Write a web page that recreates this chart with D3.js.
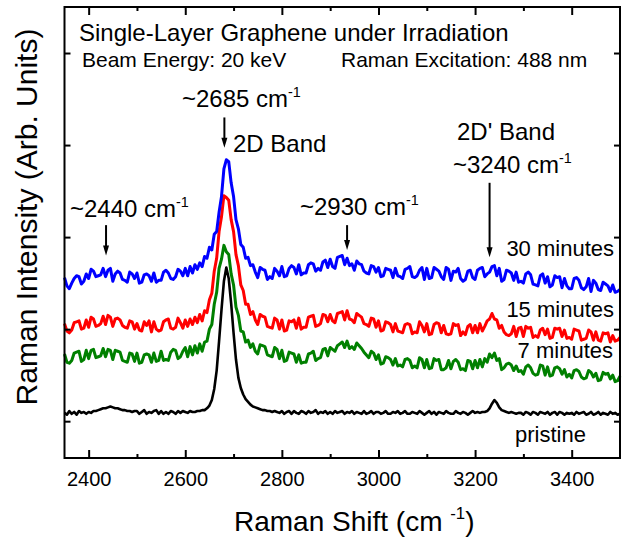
<!DOCTYPE html>
<html>
<head>
<meta charset="utf-8">
<script src="https://cdn.jsdelivr.net/npm/d3@7"></script>
<style>
  body { margin: 0; background: #fff; }
  svg { font-family: "Liberation Sans", Arial, sans-serif; }
</style>
</head>
<body>
<div id="chart"></div>
<script>

// raman shift grid, 5 cm-1 step from 2350 to 3500
var shift = d3.range(2350, 3501, 5);

// intensities (arb. units), one row = 50 cm-1
var pristine = [
    9, 7, 11, 8, 10, 7, 11, 9, 10, 8,
    10, 9, 11, 11, 12, 13, 14, 14, 15, 16,
    15, 14, 14, 13, 12, 12, 11, 11, 10, 11,
    11, 8, 10, 12, 8, 10, 9, 11, 12, 8,
    11, 8, 10, 8, 11, 10, 8, 11, 9, 11,
    10, 9, 11, 10, 10, 11, 11, 12, 12, 14,
    17, 23, 35, 55, 87, 121, 152, 167, 155, 128,
    96, 67, 47, 36, 29, 24, 21, 18, 16, 15,
    14, 13, 12, 12, 11, 11, 10, 11, 10, 9,
    11, 8, 10, 11, 8, 11, 9, 8, 11, 10,
    8, 11, 9, 10, 12, 8, 10, 9, 11, 8,
    10, 8, 11, 9, 10, 11, 8, 10, 9, 11,
    8, 10, 9, 8, 11, 8, 9, 11, 8, 10,
    10, 8, 9, 11, 8, 8, 10, 9, 11, 8,
    9, 11, 8, 8, 10, 9, 8, 11, 9, 7,
    9, 11, 8, 10, 7, 10, 9, 8, 11, 9,
    8, 8, 11, 9, 8, 10, 9, 7, 9, 11,
    9, 10, 9, 10, 10, 11, 14, 19, 23, 20,
    15, 12, 11, 10, 9, 10, 9, 8, 9, 9,
    7, 10, 9, 7, 10, 9, 7, 10, 9, 8,
    10, 7, 9, 10, 7, 10, 9, 7, 9, 8,
    9, 7, 10, 8, 9, 10, 7, 8, 10, 7,
    8, 10, 7, 9, 8, 7, 10, 8, 9, 7,
    8
];

var min7 = [
    73, 64, 63, 66, 74, 75, 76, 65, 67, 77,
    68, 77, 78, 69, 70, 71, 79, 70, 78, 77,
    67, 77, 76, 75, 66, 65, 64, 74, 73, 65,
    74, 63, 64, 72, 73, 72, 64, 74, 65, 66,
    76, 66, 67, 66, 75, 78, 77, 68, 70, 76,
    80, 70, 81, 72, 82, 74, 84, 76, 86, 87,
    100, 105, 127, 140, 166, 176, 191, 184, 181, 160,
    148, 124, 115, 98, 97, 86, 88, 80, 84, 76,
    73, 83, 82, 81, 72, 71, 70, 80, 78, 68,
    77, 65, 66, 75, 74, 73, 64, 72, 63, 64,
    64, 73, 74, 76, 66, 68, 69, 78, 79, 71,
    80, 78, 76, 82, 84, 86, 80, 87, 79, 81,
    78, 85, 82, 79, 75, 72, 69, 76, 74, 67,
    72, 62, 63, 70, 69, 67, 61, 68, 60, 61,
    59, 67, 68, 66, 58, 60, 58, 69, 67, 58,
    67, 57, 58, 68, 66, 67, 56, 56, 58, 66,
    57, 65, 67, 64, 56, 57, 55, 66, 65, 57,
    66, 58, 67, 59, 68, 64, 73, 69, 74, 66,
    68, 56, 58, 62, 63, 61, 55, 60, 54, 55,
    51, 59, 61, 58, 52, 50, 51, 61, 60, 50,
    59, 49, 50, 58, 59, 57, 51, 56, 48, 51,
    47, 55, 56, 54, 48, 46, 47, 55, 53, 48,
    52, 44, 45, 53, 51, 52, 46, 50, 43, 44,
    49
];

var min15 = [
    106, 98, 96, 99, 107, 108, 109, 100, 101, 110,
    102, 113, 111, 103, 104, 106, 114, 105, 115, 113,
    103, 111, 112, 110, 104, 102, 101, 109, 108, 100,
    106, 99, 98, 108, 104, 109, 97, 108, 100, 98,
    99, 108, 110, 111, 101, 100, 102, 112, 107, 101,
    110, 103, 111, 105, 113, 107, 116, 109, 120, 118,
    132, 139, 163, 177, 206, 222, 245, 243, 240, 219,
    206, 181, 169, 148, 142, 127, 127, 116, 119, 110,
    105, 116, 114, 113, 103, 102, 101, 112, 110, 100,
    110, 98, 99, 109, 108, 110, 101, 112, 100, 102,
    102, 113, 114, 115, 103, 104, 106, 116, 115, 108,
    116, 109, 107, 117, 118, 119, 110, 120, 111, 110,
    107, 117, 115, 113, 106, 105, 103, 112, 111, 102,
    109, 98, 99, 108, 107, 105, 97, 106, 98, 97,
    96, 105, 106, 105, 95, 97, 96, 108, 104, 97,
    106, 94, 95, 105, 107, 106, 96, 104, 95, 94,
    95, 106, 104, 105, 93, 97, 94, 103, 105, 96,
    104, 96, 106, 98, 103, 109, 111, 117, 111, 110,
    101, 104, 97, 94, 93, 95, 103, 92, 101, 102,
    92, 103, 101, 102, 91, 93, 91, 99, 101, 94,
    100, 90, 91, 101, 100, 101, 92, 99, 90, 91,
    89, 100, 99, 98, 88, 89, 90, 99, 97, 88,
    97, 88, 87, 96, 95, 96, 86, 93, 87, 88,
    91
];

var min30 = [
    156, 147, 144, 150, 155, 158, 157, 149, 152, 160,
    155, 165, 163, 157, 158, 159, 166, 157, 164, 166,
    152, 160, 163, 161, 154, 153, 151, 162, 160, 155,
    161, 150, 151, 159, 160, 158, 152, 161, 151, 153,
    153, 162, 164, 161, 155, 154, 157, 165, 163, 158,
    166, 158, 168, 161, 170, 165, 172, 168, 179, 177,
    189, 186, 203, 206, 227, 244, 274, 284, 282, 259,
    244, 219, 209, 192, 189, 177, 178, 169, 170, 162,
    156, 167, 165, 164, 154, 157, 155, 166, 163, 158,
    168, 157, 158, 166, 169, 167, 160, 170, 159, 161,
    161, 170, 172, 171, 163, 166, 164, 173, 175, 167,
    176, 168, 166, 178, 179, 180, 170, 177, 169, 171,
    164, 174, 171, 170, 163, 161, 160, 169, 168, 162,
    167, 157, 158, 166, 165, 164, 156, 166, 158, 157,
    155, 165, 166, 168, 157, 156, 158, 164, 167, 154,
    166, 155, 156, 167, 165, 163, 157, 154, 167, 165,
    153, 163, 162, 166, 155, 152, 154, 163, 164, 156,
    154, 164, 166, 167, 157, 160, 162, 168, 169, 158,
    166, 152, 154, 164, 163, 161, 153, 162, 151, 152,
    150, 160, 162, 159, 149, 148, 147, 158, 160, 150,
    157, 146, 148, 158, 156, 157, 145, 155, 147, 144,
    144, 155, 156, 153, 145, 143, 146, 155, 141, 153,
    150, 143, 142, 151, 149, 147, 141, 148, 140, 141,
    143
];

var seriesNames = ["pristine", "7 minutes", "15 minutes", "30 minutes"];
var seriesColors = ["#000000", "#008000", "#ff0000", "#0000ff"];

var xMajor = [2400, 2600, 2800, 3000, 3200, 3400];
var xMinor = [2500, 2700, 2900, 3100, 3300];
var yMajor = [0, 100, 200, 300, 400];

// arrow annotations: wavenumber, top and tip in intensity units
var arrowShift = [2436, 2681, 2935, 3230];
var arrowTop = [213, 330, 213, 259];
var arrowTip = [180, 297, 186, 178];


var width = 625, height = 539;
var svg = d3.select("#chart").append("svg")
    .attr("width", width)
    .attr("height", height);

svg.append("rect").attr("width", width).attr("height", height).attr("fill", "#fff");

var x = d3.scaleLinear().domain([2350, 3500]).range([64.5, 620]);
var y = d3.scaleLinear().domain([-40, 450]).range([458, 7]);

// spectra
var line = d3.line()
    .x(function(d, i) { return x(shift[i]); })
    .y(function(d) { return y(d); });

[pristine, min7, min15, min30].forEach(function(s, k) {
    svg.append("path")
        .datum(s)
        .attr("fill", "none")
        .attr("stroke", seriesColors[k])
        .attr("stroke-width", k === 0 ? 2.6 : 3)
        .attr("stroke-linejoin", "round")
        .attr("d", line);
});

// axes, ticks inward
var bottom = svg.append("g")
    .attr("transform", "translate(0," + y.range()[0] + ")")
    .call(d3.axisBottom(x).tickValues(xMajor).tickFormat(d3.format("d"))
        .tickSizeInner(-8).tickSizeOuter(0).tickPadding(14));
bottom.selectAll("text").attr("font-size", 20).attr("font-family", null).attr("fill", "#000");

svg.append("g")
    .attr("transform", "translate(0," + y.range()[0] + ")")
    .call(d3.axisBottom(x).tickValues(xMinor).tickFormat("").tickSizeInner(-4).tickSizeOuter(0));

svg.append("g")
    .attr("transform", "translate(0," + y.range()[1] + ")")
    .call(d3.axisTop(x).tickValues(xMajor).tickFormat("").tickSizeInner(-8).tickSizeOuter(0));
svg.append("g")
    .attr("transform", "translate(0," + y.range()[1] + ")")
    .call(d3.axisTop(x).tickValues(xMinor).tickFormat("").tickSizeInner(-4).tickSizeOuter(0));

svg.append("g")
    .attr("transform", "translate(" + x.range()[0] + ",0)")
    .call(d3.axisLeft(y).tickValues(yMajor).tickFormat("").tickSizeInner(-6).tickSizeOuter(0));
svg.append("g")
    .attr("transform", "translate(" + x.range()[1] + ",0)")
    .call(d3.axisRight(y).tickValues(yMajor).tickFormat("").tickSizeInner(-6).tickSizeOuter(0));

svg.selectAll(".domain").remove();
svg.selectAll(".tick line").attr("stroke", "#000").attr("stroke-width", 2);

// frame
svg.append("rect")
    .attr("x", x.range()[0])
    .attr("y", y.range()[1])
    .attr("width", x.range()[1] - x.range()[0])
    .attr("height", y.range()[0] - y.range()[1])
    .attr("fill", "none")
    .attr("stroke", "#000")
    .attr("stroke-width", 2);

// arrows
arrowShift.forEach(function(s, i) {
    var ax = x(s), y0 = y(arrowTop[i]), y1 = y(arrowTip[i]);
    svg.append("line")
        .attr("x1", ax).attr("x2", ax)
        .attr("y1", y0).attr("y2", y1 - 8)
        .attr("stroke", "#000").attr("stroke-width", 2);
    svg.append("path")
        .attr("d", "M" + (ax - 3) + "," + (y1 - 10) + "L" + (ax + 3) + "," + (y1 - 10) + "L" + ax + "," + y1 + "Z")
        .attr("fill", "#000");
});

// text helper with optional superscript
function label(tx, ty, size, main, sup, tail, anchor) {
    var t = svg.append("text")
        .attr("x", tx).attr("y", ty)
        .attr("font-size", size)
        .attr("text-anchor", anchor || "start")
        .attr("fill", "#000")
        .text(main);
    if (sup) {
        t.append("tspan").attr("font-size", size * 0.6).attr("dy", -size * 0.42).text(sup);
        if (tail) t.append("tspan").attr("font-size", size).attr("dy", size * 0.42).text(tail);
    }
    return t;
}

label(79, 41, 24, "Single-Layer Graphene under Irradiation");
label(82, 67, 21, "Beam Energy: 20 keV");
label(341, 67, 21, "Raman Excitation: 488 nm");

label(182, 107, 24, "~2685 cm", "-1");
label(233, 152, 24, "2D Band");
label(70, 217, 24, "~2440 cm", "-1");
label(300, 215, 24, "~2930 cm", "-1");
label(457, 140, 24, "2D' Band");
label(453, 173, 24, "~3240 cm", "-1");

label(614, 256, 22, seriesNames[3], null, null, "end");
label(614, 317, 22, seriesNames[2], null, null, "end");
label(613, 358, 22, seriesNames[1], null, null, "end");
label(515, 442, 22, seriesNames[0]);

// axis titles
label(234, 531, 28, "Raman Shift (cm ", "-1", ")");

svg.append("text")
    .attr("transform", "translate(37,217) rotate(-90)")
    .attr("text-anchor", "middle")
    .attr("font-size", 30)
    .attr("fill", "#000")
    .text("Raman Intensity (Arb. Units)");

</script>
</body>
</html>
